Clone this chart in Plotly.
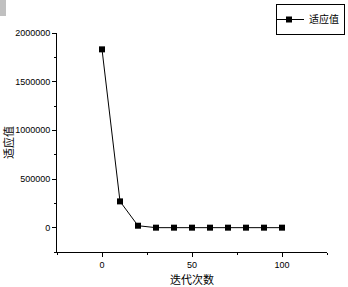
import plotly.graph_objects as go

iterations = [0, 10, 20, 30, 40, 50, 60, 70, 80, 90, 100]
fitness = [1832000, 270000, 20000, 0, 0, 0, 0, 0, 0, 0, 0]
series_name = "适应值"
x_title = "迭代次数"
y_title = "适应值"

fig = go.Figure()
fig.add_trace(go.Scatter(
    x=iterations, y=fitness, name=series_name, mode="lines+markers",
    line=dict(color="black", width=1),
    marker=dict(symbol="square", size=6, color="black"),
))

axis_common = dict(
    showline=True, linecolor="black", linewidth=1, mirror=False,
    showgrid=False, zeroline=False, ticks="outside", ticklen=4,
    tickcolor="black", tickwidth=1, automargin=False,
    tickfont=dict(family="Arial, Liberation Sans", size=9, color="black"),
)

PW, PH = 270, 219

fig.update_layout(
    width=348, height=287,
    margin=dict(l=57, r=21, t=33, b=35, autoexpand=False),
    paper_bgcolor="white", plot_bgcolor="white",
    showlegend=True,
    legend=dict(
        x=(345 - 57) / PW, y=(PH + 33 - 4) / PH, xanchor="right", yanchor="top",
        xref="paper", yref="paper",
        bordercolor="black", borderwidth=1, bgcolor="white",
        font=dict(family="Noto Sans CJK SC", size=10, color="black"),
        itemwidth=30, tracegroupgap=0, indentation=-8,
    ),
    xaxis=dict(
        range=[-25, 125], tickvals=[0, 50, 100],
        minor=dict(ticks="outside", ticklen=2, tickcolor="black", tickvals=[-25, 25, 75, 125]),
        title=dict(text=x_title, font=dict(family="Noto Sans CJK SC", size=11, color="black"), standoff=8),
        **axis_common,
    ),
    yaxis=dict(
        range=[-250000, 2000000], tickvals=[0, 500000, 1000000, 1500000, 2000000],
        tickformat="d",
        minor=dict(ticks="outside", ticklen=2, tickcolor="black",
                   tickvals=[-250000, 250000, 750000, 1250000, 1750000]),
        title=dict(text=y_title, font=dict(family="Noto Sans CJK SC", size=11, color="black"), standoff=6),
        **axis_common,
    ),
)

fig.add_shape(type="rect", xref="paper", yref="paper",
              x0=-57 / PW, x1=-51 / PW, y0=(PH + 33) / PH, y1=(PH + 33 - 16) / PH,
              fillcolor="#c0c0c0", line=dict(width=0), layer="above")

fig.write_html("out.html")
